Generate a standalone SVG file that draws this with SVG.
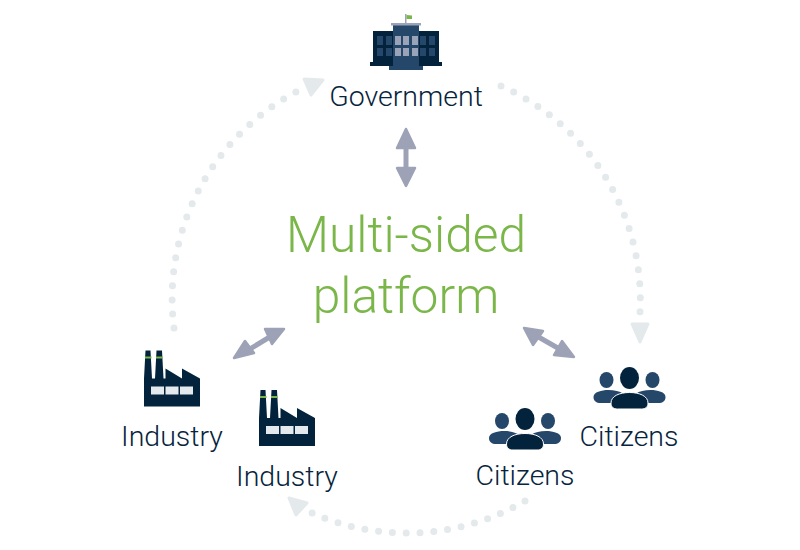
<svg xmlns="http://www.w3.org/2000/svg" width="800" height="550" viewBox="0 0 800 550">
<defs>
<style>
.lbl{font-family:Roboto,"Liberation Sans",sans-serif;font-weight:300;font-size:28.5px;fill:#06243c;text-anchor:middle}
.big{font-family:Roboto,"Liberation Sans",sans-serif;font-weight:300;font-size:49.7px;fill:#7ab648;text-anchor:middle}
.dots{fill:none;stroke:#e4e9ec;stroke-width:7;stroke-linecap:round;stroke-dasharray:0 1}
.dh{fill:#e4e9ec;stroke:#e4e9ec;stroke-width:3;stroke-linejoin:round}
.ah{fill:#9da2b6;stroke:#9da2b6;stroke-width:2.5;stroke-linejoin:round}
.shaft{stroke:#9da2b6;stroke-width:5;fill:none}
.d{fill:#03233d}.m{fill:#25476a}.w{fill:#e4e9ee}.g{fill:#7ab648}.win{fill:#9ba3b8}.dw{fill:#25476a}
</style>
<g id="factory">
<path class="d" d="M0 28L1.500 0H6.500L8 28H11L12.500 0H18L19.500 28H21.500V18L38 28V18L56 28V56H0Z"/>
<rect class="g" x="1" y="6" width="6.500" height="2"/>
<rect class="g" x="12" y="6" width="6.500" height="2"/>
<rect class="w" x="7" y="36" width="13" height="8"/>
<rect class="w" x="21.500" y="36" width="13" height="8"/>
<rect class="w" x="36" y="36" width="13" height="8"/>
</g>
<g id="people">
<ellipse class="m" cx="-23" cy="-7" rx="7" ry="8"/>
<ellipse class="m" cx="23" cy="-7" rx="7" ry="8"/>
<path class="m" d="M-36 10C-36 5 -28 3 -21 3C-15 3 -10 4 -6 7L-14 16H-29C-33 16 -36 14 -36 10Z"/>
<path class="m" d="M36 10C36 5 28 3 21 3C15 3 10 4 6 7L14 16H29C33 16 36 14 36 10Z"/>
<ellipse class="d" cx="0" cy="-9" rx="9.500" ry="11"/>
<path class="d" stroke="#ffffff" stroke-width="1" d="M-18.500 16C-18.500 9 -10 5.500 0 5.500C10 5.500 18.500 9 18.500 16C18.500 20 16 22 12 22H-12C-16 22 -18.500 20 -18.500 16Z"/>
</g>
</defs>
<rect width="800" height="550" fill="#ffffff"/>
<g id="connectors">
<path class="dots" pathLength="20.010" d="M174 328A234 234 0 0 1 296 92"/>
<path class="dh" d="M304 79L323 80L311 95Z"/>
<path class="dots" pathLength="20.010" d="M501 86A234 234 0 0 1 640 312"/>
<path class="dh" d="M632 324H648L640 342Z"/>
<path class="dots" pathLength="16.010" d="M525 501A234 234 0 0 1 312 513"/>
<path class="dh" d="M289 498L307 503L296 515Z"/>
<path class="shaft" d="M406 142V174"/>
<path class="ah" d="M406 129L397 148H415Z"/>
<path class="ah" d="M406 186L397 168H415Z"/>
<path class="shaft" d="M245 352L273 335"/>
<path class="ah" d="M234 358L245 341L254 353Z"/>
<path class="ah" d="M284 329L265 329L272 344Z"/>
<path class="shaft" d="M535 335L563 351"/>
<path class="ah" d="M524 328L533 345L543 331Z"/>
<path class="ah" d="M574 357L562 341L554 355Z"/>
</g>
<g id="government">
<rect class="d" x="373" y="31" width="66" height="32"/>
<rect class="d" x="370" y="62" width="72" height="4"/>
<rect class="m" x="393" y="25" width="26" height="42"/>
<rect x="391" y="23" width="30" height="2.500" fill="#9ba3b8"/>
<rect class="m" x="389" y="66" width="34" height="4"/>
<rect x="405" y="14" width="1.500" height="9" fill="#9ba3b8"/>
<path class="g" d="M406.500 15L412 15.500V19H406.500Z"/>
<g class="dw">
<rect x="377" y="36" width="6" height="9"/><rect x="386" y="36" width="6" height="9"/>
<rect x="377" y="48" width="6" height="8"/><rect x="386" y="48" width="6" height="8"/>
<rect x="420" y="36" width="6" height="9"/><rect x="429" y="36" width="6" height="9"/>
<rect x="420" y="48" width="6" height="8"/><rect x="429" y="48" width="6" height="8"/>
</g>
<g class="win">
<rect x="395" y="36" width="6" height="9"/><rect x="403" y="36" width="6" height="9"/><rect x="412" y="36" width="6" height="9"/>
<rect x="395" y="48" width="6" height="8"/><rect x="403" y="48" width="6" height="8"/><rect x="412" y="48" width="6" height="8"/>
</g>
<text class="lbl" x="406" y="106">Government</text>
</g>
<g id="platform">
<text class="big" x="406" y="252">Multi-sided</text>
<text class="big" x="406" y="313">platform</text>
</g>
<g id="industry-1">
<use href="#factory" x="144" y="350.500"/>
<text class="lbl" x="172" y="446">Industry</text>
</g>
<g id="industry-2">
<use href="#factory" x="259" y="390"/>
<text class="lbl" x="287" y="486">Industry</text>
</g>
<g id="citizens-1">
<use href="#people" x="629.500" y="387"/>
<text class="lbl" x="629" y="446">Citizens</text>
</g>
<g id="citizens-2">
<use href="#people" x="525" y="428"/>
<text class="lbl" x="525" y="485">Citizens</text>
</g>
</svg>
